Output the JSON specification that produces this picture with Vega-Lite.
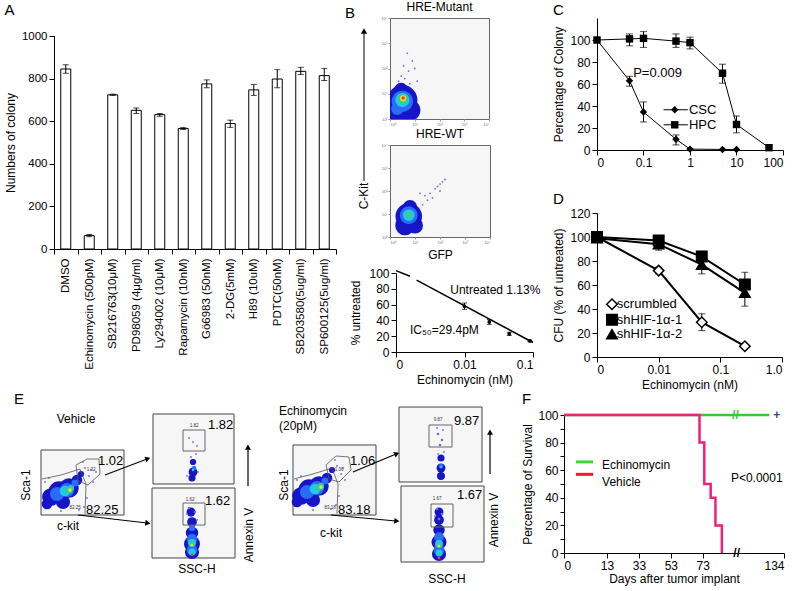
{
"$schema":"https://vega.github.io/schema/vega-lite/v6.json",
"background":"white",
"padding":{"left":4,"top":0,"right":0,"bottom":0},
"config":{
 "font":"Liberation Sans",
 "view":{"stroke":null},
 "axis":{"domainColor":"#000","tickColor":"#000","labelColor":"#000","titleColor":"#000","titleFontWeight":"normal","titleFontSize":12,"labelFontSize":11,"grid":false,"labelFont":"Liberation Sans","titleFont":"Liberation Sans"},
 "title":{"fontSize":15,"fontWeight":"normal","anchor":"start","frame":"bounds","font":"Liberation Sans","color":"#000"},
 "legend":{"labelFontSize":12,"labelFont":"Liberation Sans","labelColor":"#000"}
},
"datasets":{
 "eBoxes":[
  {"k":"frame","x":40,"x2":123,"y":448,"y2":513},
  {"k":"frame","x":152,"x2":233,"y":412,"y2":482},
  {"k":"frame","x":151,"x2":234,"y":486,"y2":556},
  {"k":"frame","x":292,"x2":375,"y":443,"y2":513},
  {"k":"frame","x":398,"x2":481,"y":405,"y2":480},
  {"k":"frame","x":400,"x2":483,"y":484,"y2":560},
  {"k":"gate","x":182,"x2":204,"y":428,"y2":449},
  {"k":"gate","x":182,"x2":204,"y":501,"y2":523},
  {"k":"gate","x":428,"x2":451,"y":423,"y2":445},
  {"k":"gate","x":430,"x2":452,"y":502,"y2":525}
 ],
 "ePolys":[
  {"g":1,"o":1,"x":75,"y":463},{"g":1,"o":2,"x":86,"y":457},{"g":1,"o":3,"x":98,"y":457},{"g":1,"o":4,"x":99,"y":472},{"g":1,"o":5,"x":87,"y":483},{"g":1,"o":6,"x":77,"y":479},{"g":1,"o":7,"x":75,"y":463},
  {"g":2,"o":1,"x":41,"y":477},{"g":2,"o":2,"x":60,"y":473},{"g":2,"o":3,"x":79,"y":467},{"g":2,"o":4,"x":85,"y":482},{"g":2,"o":5,"x":84,"y":512},
  {"g":3,"o":1,"x":325,"y":463},{"g":3,"o":2,"x":335,"y":454},{"g":3,"o":3,"x":348,"y":455},{"g":3,"o":4,"x":350,"y":468},{"g":3,"o":5,"x":338,"y":480},{"g":3,"o":6,"x":328,"y":477},{"g":3,"o":7,"x":325,"y":463},
  {"g":4,"o":1,"x":293,"y":477},{"g":4,"o":2,"x":312,"y":472},{"g":4,"o":3,"x":331,"y":466},{"g":4,"o":4,"x":337,"y":482},{"g":4,"o":5,"x":336,"y":512}
 ],
 "eBlobs":[
  {"x":50,"y":495,"lev":1,"d":20},{"x":58,"y":490,"lev":1,"d":24},{"x":68,"y":486,"lev":1,"d":22},{"x":76,"y":478,"lev":1,"d":12},{"x":46,"y":502,"lev":1,"d":12},{"x":62,"y":500,"lev":1,"d":16},{"x":80,"y":472,"lev":1,"d":7},
  {"x":56,"y":492,"lev":2,"d":16},{"x":66,"y":488,"lev":2,"d":16},{"x":74,"y":481,"lev":2,"d":8},
  {"x":64,"y":489,"lev":3,"d":12},{"x":70,"y":486,"lev":3,"d":7},{"x":68,"y":488,"lev":4,"d":8},{"x":69,"y":488,"lev":5,"d":4},
  {"x":84,"y":466,"lev":0,"d":2},{"x":88,"y":474,"lev":0,"d":2},{"x":90,"y":468,"lev":0,"d":2},{"x":82,"y":460,"lev":0,"d":2},{"x":44,"y":480,"lev":0,"d":2},{"x":48,"y":476,"lev":0,"d":2},{"x":86,"y":496,"lev":0,"d":2},{"x":83,"y":505,"lev":0,"d":2},{"x":78,"y":508,"lev":0,"d":2},{"x":60,"y":509,"lev":0,"d":2},{"x":92,"y":480,"lev":0,"d":2},{"x":95,"y":470,"lev":0,"d":2},
  {"x":192,"y":470,"lev":1,"d":10},{"x":192,"y":460,"lev":1,"d":7},{"x":191,"y":476,"lev":1,"d":8},{"x":193,"y":466,"lev":2,"d":5},{"x":192,"y":468,"lev":3,"d":3},
  {"x":190,"y":455,"lev":0,"d":2},{"x":195,"y":452,"lev":0,"d":2},{"x":192,"y":440,"lev":0,"d":2},{"x":188,"y":436,"lev":0,"d":2},{"x":196,"y":444,"lev":0,"d":2},{"x":197,"y":470,"lev":0,"d":2},{"x":186,"y":474,"lev":0,"d":2},
  {"x":190,"y":510,"lev":1,"d":10},{"x":191,"y":520,"lev":1,"d":11},{"x":191,"y":531,"lev":1,"d":14},{"x":191,"y":542,"lev":1,"d":18},{"x":191,"y":550,"lev":1,"d":16},
  {"x":191,"y":526,"lev":2,"d":7},{"x":191,"y":537,"lev":2,"d":12},{"x":191,"y":548,"lev":2,"d":12},{"x":191,"y":541,"lev":3,"d":9},{"x":191,"y":550,"lev":3,"d":8},{"x":191,"y":542,"lev":4,"d":6},{"x":191,"y":543,"lev":5,"d":3},{"x":191,"y":553,"lev":6,"d":3},
  {"x":188,"y":506,"lev":0,"d":3},{"x":194,"y":510,"lev":0,"d":3},{"x":190,"y":515,"lev":0,"d":3},{"x":186,"y":512,"lev":0,"d":2},{"x":196,"y":518,"lev":0,"d":2},
  {"x":300,"y":494,"lev":1,"d":20},{"x":308,"y":488,"lev":1,"d":24},{"x":318,"y":484,"lev":1,"d":22},{"x":326,"y":476,"lev":1,"d":12},{"x":296,"y":500,"lev":1,"d":12},{"x":312,"y":498,"lev":1,"d":16},{"x":331,"y":468,"lev":1,"d":7},
  {"x":306,"y":490,"lev":2,"d":16},{"x":316,"y":486,"lev":2,"d":16},{"x":324,"y":479,"lev":2,"d":8},
  {"x":314,"y":487,"lev":3,"d":12},{"x":320,"y":484,"lev":3,"d":7},{"x":319,"y":485,"lev":4,"d":8},{"x":320,"y":485,"lev":5,"d":4},
  {"x":336,"y":464,"lev":0,"d":2},{"x":340,"y":472,"lev":0,"d":2},{"x":342,"y":466,"lev":0,"d":2},{"x":334,"y":458,"lev":0,"d":2},{"x":296,"y":478,"lev":0,"d":2},{"x":300,"y":474,"lev":0,"d":2},{"x":338,"y":494,"lev":0,"d":2},{"x":335,"y":503,"lev":0,"d":2},{"x":330,"y":507,"lev":0,"d":2},{"x":312,"y":508,"lev":0,"d":2},{"x":344,"y":478,"lev":0,"d":2},
  {"x":440,"y":466,"lev":1,"d":10},{"x":440,"y":456,"lev":1,"d":8},{"x":440,"y":474,"lev":1,"d":9},{"x":440,"y":464,"lev":2,"d":5},{"x":440,"y":465,"lev":3,"d":3},
  {"x":437,"y":432,"lev":0,"d":3},{"x":441,"y":438,"lev":0,"d":3},{"x":439,"y":443,"lev":0,"d":3},{"x":442,"y":428,"lev":0,"d":2},{"x":436,"y":426,"lev":0,"d":2},{"x":443,"y":450,"lev":0,"d":2},{"x":437,"y":452,"lev":0,"d":2},
  {"x":438,"y":510,"lev":1,"d":10},{"x":438,"y":518,"lev":1,"d":11},{"x":438,"y":528,"lev":1,"d":13},{"x":438,"y":540,"lev":1,"d":17},{"x":438,"y":552,"lev":1,"d":16},
  {"x":438,"y":535,"lev":2,"d":11},{"x":438,"y":548,"lev":2,"d":12},{"x":438,"y":542,"lev":3,"d":9},{"x":438,"y":551,"lev":3,"d":8},{"x":438,"y":543,"lev":4,"d":6},{"x":438,"y":544,"lev":5,"d":3},{"x":438,"y":556,"lev":6,"d":3},
  {"x":436,"y":507,"lev":0,"d":3},{"x":441,"y":512,"lev":0,"d":3},{"x":438,"y":517,"lev":0,"d":3},{"x":434,"y":514,"lev":0,"d":2}
 ],
 "eArrows":[
  {"x":104,"y":473,"x2":146,"y2":457},{"x":77,"y":513,"x2":146,"y2":521},
  {"x":352,"y":470,"x2":395,"y2":452},{"x":330,"y":513,"x2":395,"y2":519},
  {"x":247,"y":484,"x2":247,"y2":447},{"x":489,"y":472,"x2":489,"y2":432}
 ],
 "eHeads":[
  {"x":146,"y":457,"a":69},{"x":146,"y":521,"a":97},{"x":395,"y":452,"a":67},{"x":395,"y":519,"a":96},{"x":247,"y":446,"a":0},{"x":489,"y":431,"a":0}
 ],
 "eText":[
  {"t":"E","x":13,"y":397,"r":"L"},
  {"t":"Vehicle","x":75,"y":417,"r":"M"},
  {"t":"1.02","x":97,"y":459,"r":"N"},
  {"t":"82.25","x":85,"y":508,"r":"N"},
  {"t":"1.02","x":90,"y":468,"r":"T"},
  {"t":"82.25","x":74,"y":506,"r":"T"},
  {"t":"1.82","x":207,"y":423,"r":"N"},
  {"t":"1.82","x":193,"y":424,"r":"T"},
  {"t":"1.62","x":204,"y":499,"r":"N"},
  {"t":"1.62","x":189,"y":498,"r":"T"},
  {"t":"Sca-1","x":25,"y":483,"r":"R"},
  {"t":"c-kit","x":67,"y":524,"r":"M"},
  {"t":"Annexin V","x":248,"y":533,"r":"R"},
  {"t":"SSC-H","x":196,"y":567,"r":"M"},
  {"t":"Echinomycin","x":278,"y":409,"r":"P"},
  {"t":"(20pM)","x":278,"y":424,"r":"P"},
  {"t":"1.06","x":349,"y":459,"r":"N"},
  {"t":"83.18","x":337,"y":508,"r":"N"},
  {"t":"1.06","x":338,"y":468,"r":"T"},
  {"t":"83.18","x":329,"y":506,"r":"T"},
  {"t":"9.87","x":453,"y":419,"r":"N"},
  {"t":"9.87","x":437,"y":418,"r":"T"},
  {"t":"1.67","x":456,"y":493,"r":"N"},
  {"t":"1.67","x":436,"y":497,"r":"T"},
  {"t":"Sca-1","x":283,"y":483,"r":"R"},
  {"t":"c-kit","x":330,"y":531,"r":"M"},
  {"t":"Annexin V","x":493,"y":518,"r":"R"},
  {"t":"SSC-H","x":446,"y":577,"r":"M"}
 ]
},
"resolve":{"scale":{"color":"independent","shape":"independent","fill":"independent","size":"independent"},"legend":{"color":"independent","shape":"independent","fill":"independent","size":"independent"}},
"spacing":2,
"vconcat":[
{"spacing":0,
 "resolve":{"scale":{"color":"independent","shape":"independent","fill":"independent","size":"independent"},"legend":{"color":"independent","shape":"independent","fill":"independent","size":"independent"}},
 "hconcat":[
 {"title":{"text":"A","offset":0},
  "spacing":0,
  "vconcat":[
  {"width":1,"height":12,"data":{"values":[{"k":1}]},"mark":{"type":"point","opacity":0}},
  {
  "width":282,"height":213,
  "data":{"values":[
   {"drug":"DMSO","v":845,"lo":825,"hi":865},
   {"drug":"Echinomycin (500pM)","v":63,"lo":58,"hi":68},
   {"drug":"SB216763(10μM)","v":724,"lo":721,"hi":727},
   {"drug":"PD98059 (4μg/ml)","v":651,"lo":636,"hi":662},
   {"drug":"Ly294002 (10μM)","v":631,"lo":623,"hi":636},
   {"drug":"Rapamycin (10nM)","v":566,"lo":561,"hi":570},
   {"drug":"Gö6983 (50nM)","v":775,"lo":757,"hi":794},
   {"drug":"2-DG(5mM)","v":589,"lo":571,"hi":605},
   {"drug":"H89 (10uM)","v":747,"lo":721,"hi":772},
   {"drug":"PDTC(50nM)","v":798,"lo":757,"hi":842},
   {"drug":"SB203580(5ug/ml)","v":834,"lo":819,"hi":853},
   {"drug":"SP600125(5ug/ml)","v":814,"lo":791,"hi":848}
  ]},
  "encoding":{"x":{"field":"drug","type":"nominal","sort":null,"title":null,"scale":{"paddingInner":0,"paddingOuter":0},"axis":{"labelAngle":-90,"tickBand":"extent","labelFontSize":11.5,"labelPadding":4}}},
  "layer":[
   {"mark":{"type":"bar","fill":"white","stroke":"black","strokeWidth":1,"width":10},
    "encoding":{"y":{"field":"v","type":"quantitative","scale":{"domain":[0,1000]},"axis":{"values":[0,200,400,600,800,1000],"format":"d","title":"Numbers of colony","titlePadding":4,"labelFontSize":11.5}}}},
   {"mark":{"type":"rule","color":"black"},"encoding":{"y":{"field":"lo","type":"quantitative"},"y2":{"field":"hi"}}},
   {"mark":{"type":"tick","color":"black","size":6,"thickness":1},"encoding":{"y":{"field":"lo","type":"quantitative"}}},
   {"mark":{"type":"tick","color":"black","size":6,"thickness":1},"encoding":{"y":{"field":"hi","type":"quantitative"}}}
  ]
  }
 ]},
 {"spacing":8,
  "resolve":{"scale":{"color":"independent","shape":"independent","fill":"independent","size":"independent"},"legend":{"color":"independent","shape":"independent","fill":"independent","size":"independent"}},
  "hconcat":[
  {"spacing":6,
   "resolve":{"scale":{"color":"independent","shape":"independent","fill":"independent","size":"independent"},"legend":{"color":"independent","shape":"independent","fill":"independent","size":"independent"}},
   "vconcat":[
   {"spacing":10,"hconcat":[
    {
     "width":30,"height":200,
     "data":{"values":[
      {"k":"line","x":24,"y":13,"y2":163},
      {"k":"head","x":24,"y":13},
      {"k":"label","x":24,"y":178,"t":"C-Kit"},
      {"k":"letter","x":5,"y":-5,"t":"B"}
     ]},
     "encoding":{
      "x":{"field":"x","type":"quantitative","scale":{"domain":[0,30]},"axis":null},
      "y":{"field":"y","type":"quantitative","scale":{"domain":[0,200],"reverse":true},"axis":null}
     },
     "layer":[
      {"transform":[{"filter":"datum.k==='line'"}],"mark":{"type":"rule","color":"black","strokeWidth":1},"encoding":{"y2":{"field":"y2"}}},
      {"transform":[{"filter":"datum.k==='head'"}],"mark":{"type":"point","shape":"triangle-up","filled":true,"opacity":1,"color":"black","size":40}},
      {"transform":[{"filter":"datum.k==='label'"}],"mark":{"type":"text","angle":270,"fontSize":12,"baseline":"middle","color":"black"},"encoding":{"text":{"field":"t"}}},
      {"transform":[{"filter":"datum.k==='letter'"}],"mark":{"type":"text","fontSize":15,"align":"left","baseline":"middle","color":"black"},"encoding":{"text":{"field":"t"}}}
     ]
    },
    {"spacing":0,"vconcat":[
     {
      "title":{"text":"HRE-Mutant","anchor":"middle","frame":"group","fontSize":12,"offset":2},
      "width":99,"height":101,
      "view":{"stroke":"#666","fill":"#f6f6f6"},
      "data":{"values":[
       {"x":0.5,"y":0.75,"lev":1,"d":34},{"x":0.25,"y":0.3,"lev":1,"d":26},{"x":0.8,"y":0.35,"lev":1,"d":24},{"x":0.45,"y":1.15,"lev":1,"d":16},
       {"x":0.5,"y":0.7,"lev":2,"d":24},{"x":0.3,"y":0.4,"lev":2,"d":14},
       {"x":0.5,"y":0.75,"lev":3,"d":16},{"x":0.52,"y":0.8,"lev":4,"d":11},{"x":0.53,"y":0.82,"lev":5,"d":7},{"x":0.53,"y":0.83,"lev":6,"d":4},
       {"x":0.6,"y":1.6,"lev":0,"d":2},{"x":0.75,"y":1.9,"lev":0,"d":2},{"x":0.45,"y":1.7,"lev":0,"d":2},{"x":0.9,"y":2.3,"lev":0,"d":2},{"x":0.7,"y":2.6,"lev":0,"d":2},{"x":0.55,"y":2.1,"lev":0,"d":2},{"x":1.1,"y":1.5,"lev":0,"d":2},{"x":1.0,"y":2.0,"lev":0,"d":2},{"x":0.35,"y":1.5,"lev":0,"d":2},{"x":0.8,"y":1.4,"lev":0,"d":2}
      ]},
      "mark":{"type":"point","filled":true,"opacity":1,"clip":true},
      "encoding":{
       "x":{"field":"x","type":"quantitative","scale":{"domain":[0,4]},"axis":{"values":[0,1,2,3,4],"labelExpr":"'10' + ['⁰','¹','²','³','⁴'][datum.value]","labelFontSize":4,"tickSize":2,"labelPadding":1,"title":null,"domain":false,"labelColor":"#777","tickColor":"#999"}},
       "y":{"field":"y","type":"quantitative","scale":{"domain":[0,4]},"axis":{"values":[0,1,2,3,4],"labelExpr":"'10' + ['⁰','¹','²','³','⁴'][datum.value]","labelFontSize":4,"tickSize":2,"labelPadding":1,"title":null,"domain":false,"labelColor":"#777","tickColor":"#999"}},
       "color":{"field":"lev","type":"ordinal","scale":{"domain":[0,1,2,3,4,5,6],"range":["#6b6be8","#1616c8","#2a6cf5","#22c8ea","#3ad07a","#e8e23a","#ff3b1f"]},"legend":null},
       "size":{"field":"d","type":"quantitative","scale":{"type":"pow","exponent":2,"domain":[0,100],"range":[0,7854]},"legend":null}
      }
     },
     {
      "title":{"text":"HRE-WT","anchor":"middle","frame":"group","fontSize":12,"offset":2},
      "width":100,"height":92,
      "view":{"stroke":"#666","fill":"#f6f6f6"},
      "data":{"values":[
       {"x":0.75,"y":0.9,"lev":1,"d":30},{"x":0.6,"y":0.5,"lev":1,"d":22},{"x":1.0,"y":0.5,"lev":1,"d":18},{"x":0.8,"y":1.3,"lev":1,"d":16},
       {"x":0.75,"y":0.95,"lev":2,"d":20},{"x":0.75,"y":0.95,"lev":3,"d":13},{"x":0.77,"y":0.97,"lev":4,"d":7},
       {"x":1.3,"y":1.4,"lev":0,"d":2},{"x":1.5,"y":1.6,"lev":0,"d":2},{"x":1.6,"y":1.9,"lev":0,"d":2},{"x":1.8,"y":2.1,"lev":0,"d":2},{"x":2.0,"y":2.3,"lev":0,"d":2},{"x":2.1,"y":2.4,"lev":0,"d":2},{"x":1.9,"y":2.2,"lev":0,"d":2},{"x":1.4,"y":1.8,"lev":0,"d":2},{"x":1.2,"y":1.9,"lev":0,"d":2},{"x":1.7,"y":1.7,"lev":0,"d":2},{"x":2.0,"y":2.0,"lev":0,"d":2},{"x":2.2,"y":2.5,"lev":0,"d":2}
      ]},
      "mark":{"type":"point","filled":true,"opacity":1,"clip":true},
      "encoding":{
       "x":{"field":"x","type":"quantitative","scale":{"domain":[0,4]},"axis":{"values":[0,1,2,3,4],"labelExpr":"'10' + ['⁰','¹','²','³','⁴'][datum.value]","labelFontSize":4,"tickSize":2,"labelPadding":1,"title":"GFP","titlePadding":5,"domain":false,"labelColor":"#777","tickColor":"#999"}},
       "y":{"field":"y","type":"quantitative","scale":{"domain":[0,4]},"axis":{"values":[0,1,2,3,4],"labelExpr":"'10' + ['⁰','¹','²','³','⁴'][datum.value]","labelFontSize":4,"tickSize":2,"labelPadding":1,"title":null,"domain":false,"labelColor":"#777","tickColor":"#999"}},
       "color":{"field":"lev","type":"ordinal","scale":{"domain":[0,1,2,3,4,5,6],"range":["#6b6be8","#1616c8","#2a6cf5","#22c8ea","#3ad07a","#e8e23a","#ff3b1f"]},"legend":null},
       "size":{"field":"d","type":"quantitative","scale":{"type":"pow","exponent":2,"domain":[0,100],"range":[0,7854]},"legend":null}
      }
     }
    ]}
   ]},
   {"spacing":5,"hconcat":[
    {"width":1,"height":1,"data":{"values":[{"k":1}]},"mark":{"type":"point","opacity":0}},
    {
    "width":137,"height":79,
    "encoding":{
     "x":{"field":"x","type":"quantitative","scale":{"type":"log","domain":[0.001,0.1]},"axis":{"values":[0.001,0.01,0.1],"format":"~g","labelExpr":"datum.value < 0.005 ? '0' : datum.label","title":"Echinomycin (nM)","labelFontSize":12,"titleFontSize":12}},
     "y":{"field":"y","type":"quantitative","scale":{"domain":[0,100]},"axis":{"values":[0,20,40,60,80,100],"title":"% untreated","labelFontSize":12,"titlePadding":6}}
    },
    "layer":[
     {"data":{"values":[{"seg":1,"x":0.001,"y":103},{"seg":1,"x":0.0016,"y":96},{"seg":2,"x":0.002,"y":91},{"seg":2,"x":0.1,"y":12}]},
      "mark":{"type":"line","color":"black","strokeWidth":1.6,"clip":false},"encoding":{"detail":{"field":"seg"}}},
     {"data":{"values":[{"x":0.01,"y":58,"lo":54,"hi":62},{"x":0.023,"y":38,"lo":35,"hi":41},{"x":0.045,"y":23,"lo":21,"hi":25},{"x":0.09,"y":14,"lo":13,"hi":15}]},
      "layer":[
       {"mark":{"type":"rule","color":"black"},"encoding":{"y":{"field":"lo","type":"quantitative"},"y2":{"field":"hi"}}},
       {"mark":{"type":"tick","orient":"horizontal","size":5,"thickness":1,"color":"black"},"encoding":{"y":{"field":"lo","type":"quantitative"}}},
       {"mark":{"type":"tick","orient":"horizontal","size":5,"thickness":1,"color":"black"},"encoding":{"y":{"field":"hi","type":"quantitative"}}},
       {"mark":{"type":"point","filled":true,"opacity":1,"color":"black","size":14}}
      ]},
     {"data":{"values":[{"x":0.0062,"y":78,"t":"Untreated  1.13%"},{"x":0.0016,"y":28,"t":"IC₅₀=29.4pM"}]},
      "mark":{"type":"text","align":"left","baseline":"middle","fontSize":12,"color":"black"},"encoding":{"text":{"field":"t"}}}
    ]
    }
   ]}
  ]},
  {"spacing":24,
   "resolve":{"scale":{"color":"independent","shape":"independent","fill":"independent","size":"independent"},"legend":{"color":"independent","shape":"independent","fill":"independent","size":"independent"}},
   "vconcat":[
   {
    "title":{"text":"C","offset":0},
    "width":186,"height":132,
    "data":{"values":[
     {"s":"CSC","x":0.01,"y":100},
     {"s":"CSC","x":0.05,"y":63,"lo":58,"hi":67},
     {"s":"CSC","x":0.1,"y":34.5,"lo":25.5,"hi":43.7},
     {"s":"CSC","x":0.5,"y":9.8,"lo":4.6,"hi":13.7},
     {"s":"CSC","x":1,"y":0.8},
     {"s":"CSC","x":5,"y":0.5},
     {"s":"CSC","x":10,"y":0.5},
     {"s":"HPC","x":0.01,"y":100},
     {"s":"HPC","x":0.05,"y":101,"lo":94.7,"hi":105.5},
     {"s":"HPC","x":0.1,"y":101.5,"lo":93.3,"hi":107.6},
     {"s":"HPC","x":0.5,"y":99,"lo":93.3,"hi":105.5},
     {"s":"HPC","x":1,"y":97.6,"lo":91.9,"hi":102.6},
     {"s":"HPC","x":5,"y":69.8,"lo":60.7,"hi":78},
     {"s":"HPC","x":10,"y":23.2,"lo":15.6,"hi":30.9},
     {"s":"HPC","x":50,"y":2.1}
    ]},
    "encoding":{
     "x":{"field":"x","type":"quantitative","scale":{"type":"log","domain":[0.01,100]},"axis":{"values":[0.01,0.1,1,10,100],"format":"~g","labelExpr":"datum.value < 0.05 ? '0' : datum.label","title":null,"labelFontSize":12}},
     "y":{"field":"y","type":"quantitative","scale":{"domain":[0,120]},"axis":{"values":[0,20,40,60,80,100],"title":"Percentage of Colony","labelFontSize":12,"titlePadding":4}}
    },
    "layer":[
     {"mark":{"type":"line","color":"black","strokeWidth":1},"encoding":{"detail":{"field":"s"}}},
     {"mark":{"type":"rule","color":"black"},"encoding":{"y":{"field":"lo","type":"quantitative"},"y2":{"field":"hi"}}},
     {"mark":{"type":"tick","orient":"horizontal","size":7,"thickness":1,"color":"black"},"encoding":{"y":{"field":"lo","type":"quantitative"}}},
     {"mark":{"type":"tick","orient":"horizontal","size":7,"thickness":1,"color":"black"},"encoding":{"y":{"field":"hi","type":"quantitative"}}},
     {"data":{"values":[{"s":"CSC","x":0.27,"x2":0.9,"y":36.6},{"s":"HPC","x":0.27,"x2":0.9,"y":22.9}]},
      "mark":{"type":"rule","color":"black","strokeWidth":1},"encoding":{"x2":{"field":"x2"}}},
     {"data":{"values":[
       {"s":"CSC","x":0.01,"y":100},{"s":"CSC","x":0.05,"y":63},{"s":"CSC","x":0.1,"y":34.5},{"s":"CSC","x":0.5,"y":9.8},{"s":"CSC","x":1,"y":0.8},{"s":"CSC","x":5,"y":0.5},{"s":"CSC","x":10,"y":0.5},
       {"s":"HPC","x":0.01,"y":100},{"s":"HPC","x":0.05,"y":101},{"s":"HPC","x":0.1,"y":101.5},{"s":"HPC","x":0.5,"y":99},{"s":"HPC","x":1,"y":97.6},{"s":"HPC","x":5,"y":69.8},{"s":"HPC","x":10,"y":23.2},{"s":"HPC","x":50,"y":2.1},
       {"s":"CSC","x":0.47,"y":36.6},{"s":"HPC","x":0.47,"y":22.9}
      ]},
      "mark":{"type":"point","filled":true,"opacity":1,"color":"black","size":55},
      "encoding":{"shape":{"field":"s","type":"nominal","scale":{"domain":["CSC","HPC"],"range":["diamond","square"]},"legend":null}}},
     {"data":{"values":[{"x":0.06,"y":70,"t":"P=0.009"},{"x":0.95,"y":36.6,"t":"CSC"},{"x":0.95,"y":22.9,"t":"HPC"}]},"mark":{"type":"text","align":"left","baseline":"middle","fontSize":13,"color":"black"},"encoding":{"text":{"field":"t"}}}
    ]
   },
   {
    "title":{"text":"D","offset":0},
    "width":185,"height":144,
    "data":{"values":[
     {"s":"scrumbled","x":0.001,"y":100},
     {"s":"scrumbled","x":0.01,"y":72,"lo":69.3,"hi":74.8},
     {"s":"scrumbled","x":0.05,"y":29,"lo":22,"hi":36},
     {"s":"scrumbled","x":0.25,"y":9},
     {"s":"shHIF-1α-1","x":0.001,"y":100},
     {"s":"shHIF-1α-1","x":0.01,"y":97,"lo":92.8,"hi":101},
     {"s":"shHIF-1α-1","x":0.05,"y":83.7,"lo":79.8,"hi":88},
     {"s":"shHIF-1α-1","x":0.25,"y":60.4,"lo":49.9,"hi":70.6},
     {"s":"shHIF-1α-2","x":0.001,"y":99},
     {"s":"shHIF-1α-2","x":0.01,"y":94,"lo":89,"hi":98},
     {"s":"shHIF-1α-2","x":0.05,"y":77,"lo":69.3,"hi":81.7},
     {"s":"shHIF-1α-2","x":0.25,"y":53.5,"lo":42.4,"hi":63}
    ]},
    "encoding":{
     "x":{"field":"x","type":"quantitative","scale":{"type":"log","domain":[0.001,1]},"axis":{"values":[0.001,0.01,0.1,1],"format":"~g","labelExpr":"datum.value < 0.005 ? '0' : (datum.value == 1 ? '1.0' : datum.label)","title":"Echinomycin (nM)","labelFontSize":12}},
     "y":{"field":"y","type":"quantitative","scale":{"domain":[0,120]},"axis":{"values":[0,20,40,60,80,100,120],"title":"CFU (% of untreated)","labelFontSize":12,"titlePadding":4}}
    },
    "layer":[
     {"mark":{"type":"line","color":"black","strokeWidth":2},"encoding":{"detail":{"field":"s"}}},
     {"mark":{"type":"rule","color":"black"},"encoding":{"y":{"field":"lo","type":"quantitative"},"y2":{"field":"hi"}}},
     {"mark":{"type":"tick","orient":"horizontal","size":7,"thickness":1,"color":"black"},"encoding":{"y":{"field":"lo","type":"quantitative"}}},
     {"mark":{"type":"tick","orient":"horizontal","size":7,"thickness":1,"color":"black"},"encoding":{"y":{"field":"hi","type":"quantitative"}}},
     {"data":{"values":[
       {"s":"scrumbled","x":0.001,"y":100},{"s":"scrumbled","x":0.01,"y":72},{"s":"scrumbled","x":0.05,"y":29},{"s":"scrumbled","x":0.25,"y":9},
       {"s":"shHIF-1α-1","x":0.001,"y":100},{"s":"shHIF-1α-1","x":0.01,"y":97},{"s":"shHIF-1α-1","x":0.05,"y":83.7},{"s":"shHIF-1α-1","x":0.25,"y":60.4},
       {"s":"shHIF-1α-2","x":0.001,"y":99},{"s":"shHIF-1α-2","x":0.01,"y":94},{"s":"shHIF-1α-2","x":0.05,"y":77},{"s":"shHIF-1α-2","x":0.25,"y":53.5},
       {"s":"scrumbled","x":0.00175,"y":44},{"s":"shHIF-1α-1","x":0.00175,"y":31},{"s":"shHIF-1α-2","x":0.00175,"y":19}
      ]},
      "mark":{"type":"point","filled":true,"opacity":1,"stroke":"black","strokeWidth":1.5,"size":110,"clip":false},
      "encoding":{
       "shape":{"field":"s","type":"nominal","scale":{"domain":["scrumbled","shHIF-1α-1","shHIF-1α-2"],"range":["diamond","square","triangle-up"]},"legend":null},
       "fill":{"field":"s","type":"nominal","scale":{"domain":["scrumbled","shHIF-1α-1","shHIF-1α-2"],"range":["white","black","black"]},"legend":null}
      }},
     {"data":{"values":[{"x":0.0021,"y":44,"t":"scrumbled"},{"x":0.0021,"y":31,"t":"shHIF-1α-1"},{"x":0.0021,"y":19,"t":"shHIF-1α-2"}]},
      "mark":{"type":"text","align":"left","baseline":"middle","fontSize":13,"color":"black"},"encoding":{"text":{"field":"t"}}}
    ]
   }
  ]}
 ]}
]},
{"spacing":4,
 "resolve":{"scale":{"color":"independent","shape":"independent","fill":"independent","size":"independent"},"legend":{"color":"independent","shape":"independent","fill":"independent","size":"independent"}},
 "hconcat":[
 {
  "width":463,"height":172,
  "encoding":{
   "x":{"field":"x","type":"quantitative","scale":{"domain":[53,516],"nice":false,"zero":false},"axis":null},
   "y":{"field":"y","type":"quantitative","scale":{"domain":[413,585],"reverse":true,"nice":false,"zero":false},"axis":null}
  },
  "layer":[
   {"data":{"name":"eBoxes"},"transform":[{"filter":"datum.k==='frame'"}],"mark":{"type":"rect","fill":"#f6f6f6","stroke":"#444","strokeWidth":1},"encoding":{"x2":{"field":"x2"},"y2":{"field":"y2"}}},
   {"data":{"name":"eBlobs"},"mark":{"type":"point","filled":true,"opacity":1},
    "encoding":{
     "color":{"field":"lev","type":"ordinal","scale":{"domain":[0,1,2,3,4,5,6],"range":["#6b6be8","#1616c8","#2a6cf5","#22c8ea","#3ad07a","#e8e23a","#ff3b1f"]},"legend":null},
     "size":{"field":"d","type":"quantitative","scale":{"type":"pow","exponent":2,"domain":[0,100],"range":[0,7854]},"legend":null}}},
   {"data":{"name":"eBoxes"},"transform":[{"filter":"datum.k==='gate'"}],"mark":{"type":"rect","fillOpacity":0,"stroke":"#666","strokeWidth":1},"encoding":{"x2":{"field":"x2"},"y2":{"field":"y2"}}},
   {"data":{"name":"ePolys"},"mark":{"type":"line","color":"#555","strokeWidth":0.8},"encoding":{"detail":{"field":"g"},"order":{"field":"o","type":"quantitative"}}},
   {"data":{"name":"eArrows"},"mark":{"type":"rule","color":"black","strokeWidth":1.2},"encoding":{"x2":{"field":"x2"},"y2":{"field":"y2"}}},
   {"data":{"name":"eHeads"},"mark":{"type":"point","shape":"triangle","filled":true,"opacity":1,"color":"black","size":35},"encoding":{"angle":{"field":"a","type":"quantitative","scale":null}}},
   {"data":{"name":"eText"},"transform":[{"filter":"datum.r==='L'"}],"mark":{"type":"text","align":"left","baseline":"middle","fontSize":15,"color":"black"},"encoding":{"text":{"field":"t"}}},
   {"data":{"name":"eText"},"transform":[{"filter":"datum.r==='M'"}],"mark":{"type":"text","align":"center","baseline":"middle","fontSize":12,"color":"black"},"encoding":{"text":{"field":"t"}}},
   {"data":{"name":"eText"},"transform":[{"filter":"datum.r==='N'"}],"mark":{"type":"text","align":"left","baseline":"middle","fontSize":13,"color":"black"},"encoding":{"text":{"field":"t"}}},
   {"data":{"name":"eText"},"transform":[{"filter":"datum.r==='P'"}],"mark":{"type":"text","align":"left","baseline":"middle","fontSize":12,"color":"black"},"encoding":{"text":{"field":"t"}}},
   {"data":{"name":"eText"},"transform":[{"filter":"datum.r==='T'"}],"mark":{"type":"text","align":"center","baseline":"middle","fontSize":4.5,"color":"#333"},"encoding":{"text":{"field":"t"}}},
   {"data":{"name":"eText"},"transform":[{"filter":"datum.r==='R'"}],"mark":{"type":"text","align":"center","baseline":"middle","fontSize":12,"angle":270,"color":"black"},"encoding":{"text":{"field":"t"}}}
  ]
 },
 {
  "title":{"text":"F","offset":2},
  "width":220,"height":138,
  "encoding":{
   "x":{"field":"d","type":"quantitative","scale":{"domain":[0,13,73,92,134],"range":[0,43,138.7,169,220],"nice":false,"zero":false},"axis":{"values":[0,13,33,53,73,134],"title":"Days after tumor implant","labelFontSize":12,"titlePadding":2}},
   "y":{"field":"p","type":"quantitative","scale":{"domain":[0,100]},"axis":{"values":[0,10,20,30,40,50,60,70,80,90,100],"labelExpr":"datum.value % 20 === 0 ? datum.label : ''","title":"Percentage of  Survival","labelFontSize":12,"tickSize":4,"titlePadding":3}}
  },
  "layer":[
   {"data":{"values":[{"d":0,"p":100},{"d":122,"p":100}]},"mark":{"type":"line","color":"#33cc33","strokeWidth":2.5}},
   {"data":{"values":[{"d":0,"p":100},{"d":71,"p":80},{"d":74,"p":50},{"d":78,"p":40},{"d":81,"p":20},{"d":85,"p":0}]},"mark":{"type":"line","color":"#f0207a","strokeWidth":2.5,"interpolate":"step-after"}},
   {"data":{"values":[{"d":11},{"d":13},{"d":15},{"d":18},{"d":21}]},
    "layer":[
     {"mark":{"type":"rule","color":"#9ccc2e","strokeWidth":2.5},"encoding":{"y":{"datum":18},"y2":{"datum":7}}},
     {"mark":{"type":"point","shape":"triangle-down","filled":true,"opacity":1,"color":"#9ccc2e","size":30},"encoding":{"y":{"datum":5}}}
    ]},
   {"data":{"values":[{"d":3.6,"d2":8.8,"p":66}]},"mark":{"type":"rule","strokeWidth":3,"color":"#33dd33"},"encoding":{"x2":{"field":"d2"}}},
   {"data":{"values":[{"d":3.6,"d2":8.8,"p":57}]},"mark":{"type":"rule","strokeWidth":3,"color":"#ff1030"},"encoding":{"x2":{"field":"d2"}}},
   {"data":{"values":[{"d":11.5,"p":64,"t":"Echinomycin"},{"d":11.5,"p":51.5,"t":"Vehicle"},{"d":90.7,"p":54,"t":"P<0.0001"}]},
    "mark":{"type":"text","align":"left","baseline":"middle","fontSize":12,"color":"black"},"encoding":{"text":{"field":"t"}}},
   {"data":{"values":[{"d":128,"p":100,"t":"+"}]},"mark":{"type":"text","align":"center","baseline":"middle","fontSize":12,"fontWeight":"bold","color":"#3b3b9b"},"encoding":{"text":{"field":"t"}}},
   {"data":{"values":[{"d":94,"p":100,"t":"//"}]},"mark":{"type":"text","align":"center","baseline":"middle","fontSize":12,"fontWeight":"bold","color":"#33cc33"},"encoding":{"text":{"field":"t"}}},
   {"data":{"values":[{"d":95,"p":0,"t":"//"}]},"mark":{"type":"text","align":"center","baseline":"middle","fontSize":12,"fontWeight":"bold","color":"#000"},"encoding":{"text":{"field":"t"}}}
  ]
 }
]}
]
}
